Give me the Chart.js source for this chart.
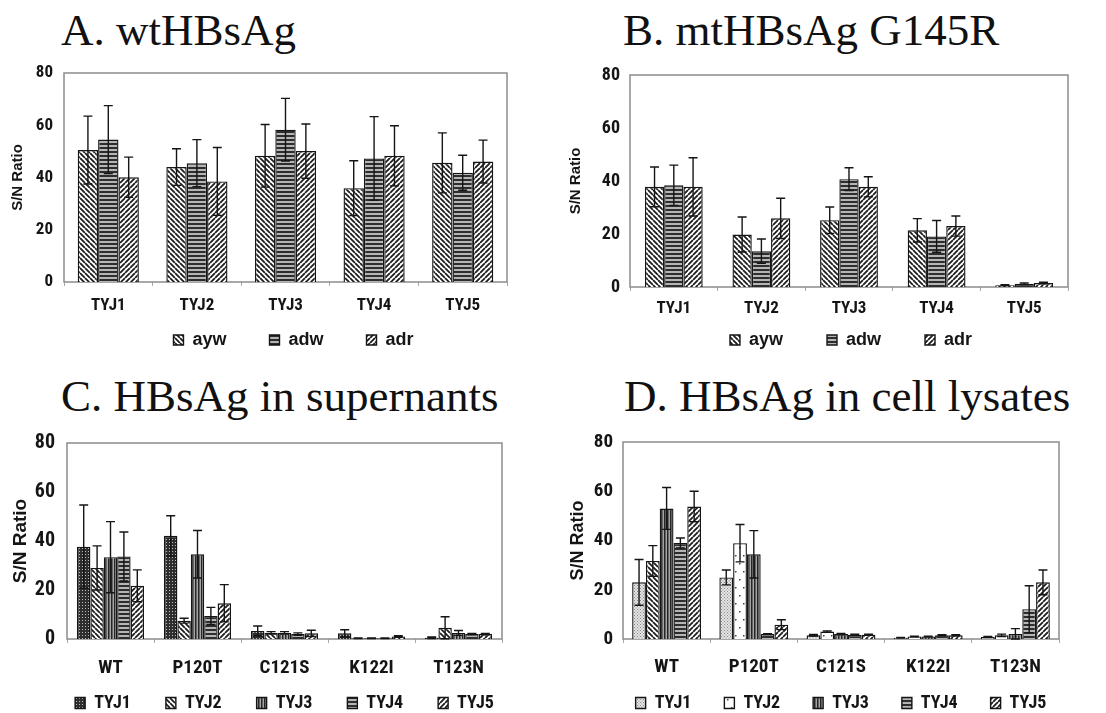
<!DOCTYPE html>
<html><head><meta charset="utf-8">
<script src="https://cdn.jsdelivr.net/npm/chart.js@4.4.1/dist/chart.umd.min.js"></script>
<style>
html,body{margin:0;padding:0;background:#fff;width:1106px;height:713px;overflow:hidden;position:relative}
.ttl{position:absolute;font-family:'Liberation Serif','Times New Roman',serif;font-size:45px;line-height:45px;color:#111;white-space:nowrap}
canvas{position:absolute}
</style></head><body>
<div class="ttl" style="left:61px;top:8px">A. wtHBsAg</div>
<div class="ttl" style="left:623px;top:8px">B. mtHBsAg G145R</div>
<div class="ttl" style="left:61px;top:374px">C. HBsAg in supernants</div>
<div class="ttl" style="left:624px;top:374px">D. HBsAg in cell lysates</div>
<canvas id="cA" width="553" height="326" style="left:0;top:63px"></canvas>
<canvas id="cB" width="553" height="330" style="left:553px;top:65px"></canvas>
<canvas id="cC" width="553" height="309" style="left:0;top:433px"></canvas>
<canvas id="cD" width="553" height="308" style="left:553px;top:432px"></canvas>
<script>
// ---------- data ----------
const strainCats = ['TYJ1','TYJ2','TYJ3','TYJ4','TYJ5'];
const mutantCats = ['WT','P120T','C121S','K122I','T123N'];
const subtypeNames = ['ayw','adw','adr'];
const strainNames = ['TYJ1','TYJ2','TYJ3','TYJ4','TYJ5'];
const yTicks = [0,20,40,60,80];

// A. wtHBsAg
const aAyw = [50.5, 44.0, 48.3, 35.9, 45.6];
const aAywErr = [13.0, 7.0, 12.0, 10.5, 11.5];
const aAdw = [54.5, 45.5, 58.3, 47.3, 41.8];
const aAdwErr = [13.0, 9.0, 12.0, 16.0, 6.7];
const aAdr = [40.1, 38.5, 50.1, 48.3, 46.1];
const aAdrErr = [7.7, 13.0, 10.4, 11.5, 8.2];

// B. mtHBsAg G145R
const bAyw = [37.8, 19.8, 25.2, 21.4, 0.7];
const bAywErr = [7.5, 6.6, 5.0, 4.4, 0.2];
const bAdw = [38.4, 13.5, 40.7, 19.1, 1.2];
const bAdwErr = [7.6, 4.6, 4.3, 6.0, 0.3];
const bAdr = [37.8, 25.9, 37.8, 23.0, 1.5];
const bAdrErr = [11.0, 7.6, 3.8, 3.8, 0.3];

// C. HBsAg in supernants
const cT1 = [37.7, 42.1, 3.3, 2.3, 0.5];
const cT1Err = [17.0, 8.2, 2.0, 1.5, 0.3];
const cT2 = [29.0, 7.5, 2.5, 0.3, 4.6];
const cT2Err = [9.0, 1.0, 0.5, 0.1, 4.5];
const cT3 = [33.4, 34.6, 2.5, 0.3, 2.5];
const cT3Err = [14.5, 9.7, 0.5, 0.1, 1.0];
const cT4 = [33.7, 9.4, 2.0, 0.3, 2.0];
const cT4Err = [10.0, 3.5, 0.5, 0.1, 0.3];
const cT5 = [21.7, 14.6, 2.3, 1.0, 2.0];
const cT5Err = [6.5, 7.6, 1.3, 0.3, 0.3];

// D. HBsAg in cell lysates
const dT1 = [23.0, 25.0, 1.5, 0.5, 0.8];
const dT1Err = [9.3, 3.0, 0.3, 0.1, 0.2];
const dT2 = [31.7, 38.9, 3.0, 1.0, 1.5];
const dT2Err = [6.2, 7.6, 0.3, 0.1, 0.5];
const dT3 = [53.0, 34.4, 2.0, 1.0, 2.0];
const dT3Err = [8.5, 9.6, 0.3, 0.1, 2.2];
const dT4 = [39.0, 2.0, 1.7, 1.5, 12.1];
const dT4Err = [2.0, 0.2, 0.2, 0.2, 9.5];
const dT5 = [53.8, 5.8, 1.7, 1.5, 23.0];
const dT5Err = [6.2, 2.0, 0.2, 0.2, 5.0];

// ---------- styles ----------
const NARROW = "'Roboto Condensed','DejaVu Sans Condensed',sans-serif";
const SANS = "'Liberation Sans',Arial,sans-serif";
const INK = '#151515';

function tile(w, h, draw) {
  const c = document.createElement('canvas');
  c.width = w; c.height = h;
  const g = c.getContext('2d');
  g.fillStyle = '#fff'; g.fillRect(0, 0, w, h);
  draw(g, w, h);
  return document.createElement('canvas').getContext('2d').createPattern(c, 'repeat');
}
const P = {
  bslash: tile(5, 5, (g, s) => { g.strokeStyle = '#1e1e1e'; g.lineWidth = 1.8; g.beginPath();
    for (const k of [-s, 0, s]) { g.moveTo(k, 0); g.lineTo(k + s, s); } g.stroke(); }),
  fslash: tile(5, 5, (g, s) => { g.strokeStyle = '#1e1e1e'; g.lineWidth = 1.8; g.beginPath();
    for (const k of [-s, 0, s]) { g.moveTo(k + s, 0); g.lineTo(k, s); } g.stroke(); }),
  hline: tile(4, 4, (g) => { g.fillStyle = '#b5b5b5'; g.fillRect(0, 0, 4, 4); g.fillStyle = '#2e2e2e'; g.fillRect(0, 0, 4, 2); }),
  vline: tile(3, 3, (g) => { g.fillStyle = '#a5a5a5'; g.fillRect(0, 0, 3, 3); g.fillStyle = '#262626'; g.fillRect(0, 0, 1.5, 3); }),
  check: tile(3, 3, (g) => { g.fillStyle = '#2e2e2e'; g.fillRect(0, 0, 3, 3); g.fillStyle = '#bbb'; g.fillRect(1, 1, 1, 1); }),
  lightdot: tile(3, 3, (g) => { g.fillStyle = '#e4e4e4'; g.fillRect(0, 0, 3, 3); g.fillStyle = '#8a8a8a'; g.fillRect(0, 0, 1, 1); g.fillRect(1.5, 1.5, 1, 1); }),
  sparse: tile(8, 16, (g) => { g.fillStyle = '#444'; g.fillRect(2, 3, 1.5, 1.5); g.fillRect(6, 11, 1.5, 1.5); })
};

const frame = {
  id: 'frame',
  beforeDatasetsDraw(chart) {
    const { ctx, chartArea: a } = chart;
    ctx.save(); ctx.strokeStyle = '#8c8c8c'; ctx.lineWidth = 1.5;
    ctx.strokeRect(a.left, a.top, a.right - a.left, a.bottom - a.top);
    ctx.restore();
  }
};
const errBars = {
  id: 'errBars',
  afterDatasetsDraw(chart) {
    const ctx = chart.ctx, y = chart.scales.y;
    ctx.save(); ctx.strokeStyle = INK; ctx.lineWidth = 1.4;
    chart.data.datasets.forEach((ds, i) => {
      if (!ds.errors) return;
      chart.getDatasetMeta(i).data.forEach((bar, j) => {
        const v = ds.data[j], e = ds.errors[j];
        const yt = y.getPixelForValue(v + e), yb = y.getPixelForValue(Math.max(0, v - e));
        const hw = 4.5;
        ctx.beginPath();
        ctx.moveTo(bar.x, yt); ctx.lineTo(bar.x, yb);
        ctx.moveTo(bar.x - hw, yt); ctx.lineTo(bar.x + hw, yt);
        ctx.moveTo(bar.x - hw, yb); ctx.lineTo(bar.x + hw, yb);
        ctx.stroke();
      });
    });
    ctx.restore();
  }
};
// places the legend row at a given height, centred on the plot area
const legendPlace = {
  id: 'legendPlace',
  afterLayout(chart, args, opts) {
    const lg = chart.legend; if (!lg || opts.centerY == null) return;
    const h = lg.height, w = lg.width;
    lg.top = opts.centerY - opts.itemH / 2 - opts.pad; lg.bottom = lg.top + h;
    const ca = chart.chartArea, cx = (ca.left + ca.right) / 2 + (opts.dx || 0);
    lg.left = cx - w / 2; lg.right = cx + w / 2;
  }
};

function ds(label, data, errors, bg, catPct, legendFill) {
  return { label, data, errors, backgroundColor: bg, legendFill, borderColor: INK, borderWidth: 1.4,
           barPercentage: 1.0, categoryPercentage: catPct };
}

function makeChart(id, labels, datasets, o) {
  return new Chart(document.getElementById(id), {
    type: 'bar',
    data: { labels, datasets },
    plugins: [frame, errBars, legendPlace],
    options: {
      responsive: false, animation: false,
      layout: { padding: { top: o.padTop, right: o.padRight, left: 0, bottom: 0 } },
      plugins: {
        tooltip: { enabled: false },
        legendPlace: { centerY: o.legY, itemH: o.legSize, pad: o.legPad, dx: o.legDx || 0 },
        legend: {
          position: 'bottom', fullSize: true,
          labels: { color: INK, boxWidth: o.boxW, boxHeight: o.boxH, padding: o.legPad,
                    font: { family: o.legFamily, size: o.legSize, weight: 'bold' },
                    generateLabels(chart) {
                      const items = Chart.defaults.plugins.legend.labels.generateLabels(chart);
                      items.forEach(it => { const d = chart.data.datasets[it.datasetIndex]; if (d.legendFill) it.fillStyle = d.legendFill; });
                      return items;
                    } }
        }
      },
      scales: {
        x: {
          grid: { display: true, drawOnChartArea: false, drawTicks: true, tickLength: 4, color: '#aaa', offset: true },
          border: { display: false },
          ticks: { color: INK, padding: o.xPad, font: { family: NARROW, size: o.xSize, weight: 'bold' } },
          afterFit(s) { s.height = o.xH; s.paddingLeft = 0; s.paddingRight = 0; }
        },
        y: {
          min: 0, max: 80,
          afterBuildTicks(s) { s.ticks = yTicks.map(v => ({ value: v })); },
          grid: { display: false, drawTicks: false },
          border: { display: false },
          ticks: { color: INK, padding: o.yPad, font: { family: NARROW, size: o.ySize, weight: 'bold' } },
          title: { display: true, text: 'S/N Ratio', color: INK, padding: { top: o.yTitlePad, bottom: 0 },
                   font: { family: SANS, size: o.yTitleSize, weight: 'bold' } },
          afterFit(s) { s.width = o.yW; s.paddingTop = 0; s.paddingBottom = 0; }
        }
      }
    }
  });
}

// Panel A
makeChart('cA', strainCats, [
  ds(subtypeNames[0], aAyw, aAywErr, P.bslash, 0.69),
  ds(subtypeNames[1], aAdw, aAdwErr, P.hline, 0.69),
  ds(subtypeNames[2], aAdr, aAdrErr, P.fslash, 0.69)
], { padTop: 10, padRight: 46, yW: 64, xH: 36, xPad: 10, xSize: 17, legPad: 43, legY: 277, legDx: 8, legFamily: SANS, legSize: 18,
     boxW: 10, boxH: 10, ySize: 17, yPad: 11, yTitleSize: 15, yTitlePad: 9 });

// Panel B
makeChart('cB', strainCats, [
  ds(subtypeNames[0], bAyw, bAywErr, P.bslash, 0.66),
  ds(subtypeNames[1], bAdw, bAdwErr, P.hline, 0.66),
  ds(subtypeNames[2], bAdr, bAdrErr, P.fslash, 0.66)
], { padTop: 10, padRight: 38, yW: 77, xH: 36, xPad: 8, xSize: 17, legPad: 44, legY: 275, legDx: 2, legFamily: SANS, legSize: 18,
     boxW: 10, boxH: 10, ySize: 18, yPad: 10, yTitleSize: 15, yTitlePad: 14 });

// Panel C
makeChart('cC', mutantCats, [
  ds(strainNames[0], cT1, cT1Err, P.check, 0.77),
  ds(strainNames[1], cT2, cT2Err, P.bslash, 0.77),
  ds(strainNames[2], cT3, cT3Err, P.vline, 0.77),
  ds(strainNames[3], cT4, cT4Err, P.hline, 0.77),
  ds(strainNames[4], cT5, cT5Err, P.fslash, 0.77)
], { padTop: 10, padRight: 51, yW: 67, xH: 40, xPad: 14, xSize: 19, legPad: 35, legY: 270, legFamily: NARROW, legSize: 18,
     boxW: 10, boxH: 11, ySize: 20, yPad: 12, yTitleSize: 19, yTitlePad: 9 });

// Panel D
makeChart('cD', mutantCats, [
  ds(strainNames[0], dT1, dT1Err, P.lightdot, 0.79),
  ds(strainNames[1], dT2, dT2Err, (c) => (c.type === 'data' && c.dataIndex === 0) ? P.bslash : P.sparse, 0.79, P.sparse),
  ds(strainNames[2], dT3, dT3Err, P.vline, 0.79),
  ds(strainNames[3], dT4, dT4Err, P.hline, 0.79),
  ds(strainNames[4], dT5, dT5Err, P.fslash, 0.79)
], { padTop: 10, padRight: 47, yW: 70, xH: 40, xPad: 13, xSize: 19, legPad: 33, legY: 271, legFamily: NARROW, legSize: 18,
     boxW: 10, boxH: 11, ySize: 19, yPad: 10, yTitleSize: 18, yTitlePad: 14 });
</script>
</body></html>
